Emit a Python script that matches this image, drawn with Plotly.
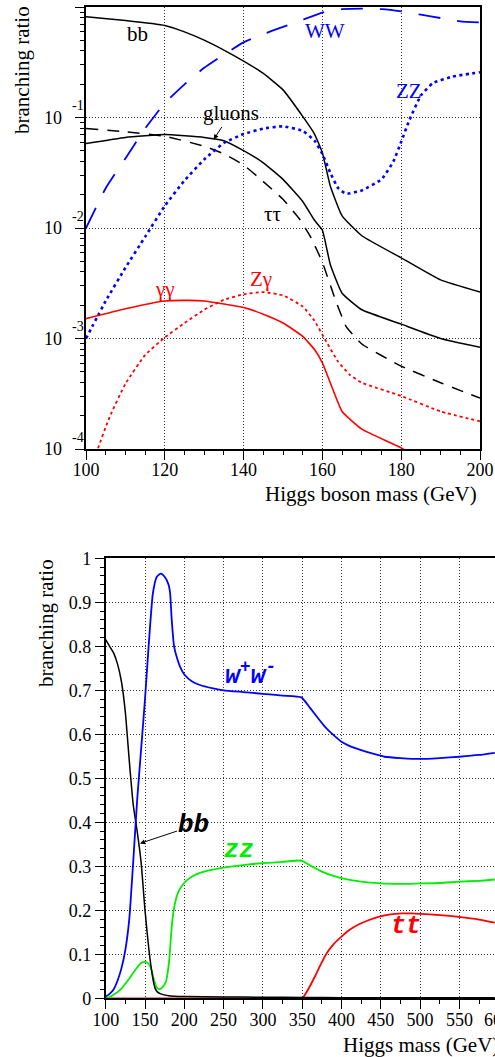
import numpy as np
import plotly.graph_objects as go

# ---------------- top panel (log scale), values are log10(branching ratio) ----------------
m_bb = [100, 110, 120, 125, 130, 135, 140, 145, 150, 155, 158, 160, 162, 165, 170, 180, 190, 200]
lg_bb = [-0.089, -0.122, -0.167, -0.225, -0.30, -0.39, -0.49, -0.60, -0.75, -0.99, -1.15, -1.32, -1.62, -1.89, -2.07, -2.27, -2.47, -2.58]

m_gg = [100, 110, 120, 130, 135, 140, 145, 150, 155, 158, 160, 162, 165, 170, 180, 190, 200]
lg_gg = [-1.235, -1.18, -1.154, -1.18, -1.21, -1.30, -1.41, -1.56, -1.76, -1.93, -2.02, -2.33, -2.59, -2.74, -2.87, -3.00, -3.08]

m_tau = [100, 110, 120, 130, 135, 140, 145, 150, 154, 157, 160, 163, 166, 170, 180, 190, 200]
lg_tau = [-1.10, -1.13, -1.17, -1.26, -1.33, -1.43, -1.58, -1.74, -1.91, -2.08, -2.31, -2.62, -2.89, -3.05, -3.25, -3.40, -3.54]

m_ww = [100, 105, 110, 115, 120, 125, 130, 135, 140, 145, 150, 155, 160, 165, 170, 175, 180, 185, 190, 195, 200]
lg_ww = [-2.0, -1.64, -1.37, -1.10, -0.87, -0.70, -0.55, -0.43, -0.32, -0.245, -0.18, -0.115, -0.05, -0.02, -0.015, -0.02, -0.04, -0.07, -0.10, -0.13, -0.14]

m_zz = [100, 105, 110, 115, 120, 125, 130, 135, 140, 145, 150, 155, 158, 160, 162, 164, 166, 170, 175, 178, 180, 182, 185, 188, 193, 200]
lg_zz = [-3.0, -2.66, -2.36, -2.08, -1.80, -1.57, -1.38, -1.23, -1.15, -1.10, -1.08, -1.12, -1.21, -1.33, -1.50, -1.64, -1.69, -1.66, -1.56, -1.40, -1.22, -1.03, -0.80, -0.69, -0.63, -0.59]

m_gamgam = [100, 110, 120, 126, 130, 140, 145, 150, 155, 158, 160, 162, 165, 170, 180, 190]
lg_gamgam = [-2.82, -2.73, -2.66, -2.655, -2.66, -2.72, -2.78, -2.86, -2.98, -3.10, -3.22, -3.40, -3.66, -3.82, -3.99, -4.2]

m_zgam = [102, 103, 106, 110, 115, 120, 125, 130, 135, 140, 145, 150, 155, 158, 161, 164, 167, 170, 180, 190, 200]
lg_zgam = [-4.15, -4.0, -3.71, -3.41, -3.15, -2.99, -2.86, -2.74, -2.65, -2.60, -2.58, -2.61, -2.71, -2.84, -3.03, -3.21, -3.33, -3.40, -3.52, -3.66, -3.75]

top_x_ticks = [100, 120, 140, 160, 180, 200]
top_y_ticks = [1e-4, 1e-3, 1e-2, 1e-1, 1]
top_y_exp = ["-4", "-3", "-2", "-1"]          # exponent labels written as "10" with a raised exponent

# ---------------- bottom panel (linear scale) ----------------
m_b_ww = [100, 105, 110, 115, 120, 125, 130, 135, 140, 145, 150, 155, 160, 165, 170, 175, 180, 182, 184, 187, 190, 195, 200,
          210, 220, 235, 250, 275, 300, 325, 349, 360, 370, 380, 390, 400, 412, 425, 440, 455, 475, 500, 525, 550, 575, 595]
br_b_ww = [0.004, 0.01, 0.02, 0.04, 0.068, 0.11, 0.18, 0.31, 0.45, 0.565, 0.68, 0.81, 0.92, 0.958, 0.965, 0.958, 0.94, 0.92, 0.86, 0.80, 0.778, 0.752, 0.736,
           0.72, 0.712, 0.705, 0.70, 0.696, 0.692, 0.688, 0.684, 0.66, 0.637, 0.615, 0.598, 0.583, 0.572, 0.564, 0.556, 0.549, 0.546, 0.544, 0.546, 0.549, 0.553, 0.558]

m_b_bb = [100, 105, 110, 115, 120, 125, 130, 135, 140, 145, 150, 155, 160, 163, 166, 170, 180, 200, 250, 300, 350, 400, 500, 595]
br_b_bb = [0.815, 0.80, 0.785, 0.76, 0.72, 0.65, 0.54, 0.44, 0.38, 0.31, 0.20, 0.11, 0.045, 0.022, 0.014, 0.010, 0.006, 0.004, 0.003, 0.0025, 0.002, 0.0012, 0.001, 0.001]

m_b_zz = [100, 105, 110, 115, 120, 125, 130, 135, 140, 145, 150, 153, 156, 159, 162, 165, 168, 171, 174, 177, 179, 181, 183, 185, 188, 192, 197,
          203, 210, 220, 230, 250, 280, 300, 325, 349, 360, 375, 390, 400, 425, 450, 475, 500, 525, 550, 575, 595]
br_b_zz = [0.0, 0.003, 0.008, 0.014, 0.022, 0.033, 0.045, 0.058, 0.07, 0.08, 0.083, 0.081, 0.075, 0.06, 0.038, 0.024, 0.021, 0.023, 0.029, 0.04, 0.06, 0.09, 0.14, 0.18, 0.215, 0.24, 0.256,
           0.268, 0.277, 0.285, 0.29, 0.297, 0.304, 0.307, 0.31, 0.313, 0.302, 0.288, 0.278, 0.273, 0.265, 0.261, 0.26, 0.261, 0.262, 0.265, 0.267, 0.27]

m_b_tt = [100, 200, 300, 350, 352, 360, 366, 373, 381, 390, 400, 410, 421, 435, 447, 460, 477, 490, 500, 525, 549, 575, 595]
br_b_tt = [0.0, 0.0, 0.0, 0.0, 0.004, 0.028, 0.049, 0.075, 0.102, 0.123, 0.14, 0.155, 0.167, 0.178, 0.185, 0.19, 0.193, 0.193, 0.192, 0.189, 0.185, 0.179, 0.172]

bot_x_ticks = [100, 150, 200, 250, 300, 350, 400, 450, 500, 550, 600]
bot_y_ticks = [0, 0.1, 0.2, 0.3, 0.4, 0.5, 0.6, 0.7, 0.8, 0.9, 1]
bot_y_text = ["0", "0.1", "0.2", "0.3", "0.4", "0.5", "0.6", "0.7", "0.8", "0.9", "1"]

# ---------------- figure ----------------
W, H = 495, 1057
SERIF = "Liberation Serif"
MONO = "Liberation Mono"
BLUE, RED, GREEN = "#0000ff", "#ff0000", "#00ee00"

fig = go.Figure()

def top_line(m, lg, color, width, dash):
    fig.add_trace(go.Scatter(x=m, y=10 ** np.array(lg), mode="lines", xaxis="x", yaxis="y",
                             line=dict(color=color, width=width, dash=dash, shape="spline", smoothing=0.4),
                             hoverinfo="skip", showlegend=False))

top_line(m_bb, lg_bb, "black", 1.5, "solid")
top_line(m_gg, lg_gg, "black", 1.5, "solid")
top_line(m_tau, lg_tau, "black", 1.5, "12px,9px")
top_line(m_ww, lg_ww, BLUE, 1.8, "22px,17px")
top_line(m_zz, lg_zz, BLUE, 2.6, "3px,3.5px")
top_line(m_gamgam, lg_gamgam, RED, 1.6, "solid")
top_line(m_zgam, lg_zgam, RED, 1.8, "3px,3px")

def bot_line(m, br, color, width):
    fig.add_trace(go.Scatter(x=m, y=br, mode="lines", xaxis="x2", yaxis="y2",
                             line=dict(color=color, width=width, shape="spline", smoothing=0.5),
                             hoverinfo="skip", showlegend=False))

bot_line(m_b_tt, br_b_tt, RED, 1.8)
bot_line(m_b_zz, br_b_zz, GREEN, 1.8)
bot_line(m_b_bb, br_b_bb, "black", 1.5)
bot_line(m_b_ww, br_b_ww, BLUE, 1.8)

tickfont = dict(family=SERIF, size=18, color="black")
grid = dict(showgrid=True, gridcolor="#333333", gridwidth=1, griddash="1px,2px")
axline = dict(showline=True, linecolor="black", linewidth=1.5, zeroline=False,
              ticks="outside", ticklen=9, tickwidth=1.2, tickcolor="black", tickfont=tickfont, automargin=False)

top_minor_y = [k * 10.0 ** e for e in range(-4, 0) for k in range(2, 10)]

fig.update_layout(
    width=W, height=H, template="none", autosize=False,
    margin=dict(l=0, r=0, t=0, b=0),
    paper_bgcolor="white", plot_bgcolor="white",
    xaxis=dict(domain=[86 / W, 480 / W], anchor="y", range=[100, 200], tickmode="array",
               tickvals=top_x_ticks, mirror=True, ticklabelstandoff=-5,
               minor=dict(dtick=5, tick0=100, ticks="outside", ticklen=4, tickwidth=1, tickcolor="black", showgrid=False),
               **grid, **axline),
    yaxis=dict(domain=[1 - 449 / H, 1 - 7 / H], anchor="x", type="log", range=[-4, 0], tickmode="array",
               tickvals=top_y_ticks, showticklabels=False, mirror=True,
               minor=dict(tickmode="array", tickvals=top_minor_y, ticks="outside", ticklen=4, tickwidth=1,
                          tickcolor="black", showgrid=False),
               **grid, **axline),
    xaxis2=dict(domain=[105.7 / W, 1.0], anchor="y2", range=[100, 595.3], tickmode="array",
                tickvals=bot_x_ticks, mirror=True, ticklabelstandoff=-5,
                minor=dict(dtick=25, tick0=100, ticks="outside", ticklen=4, tickwidth=1, tickcolor="black", showgrid=False),
                **grid, **axline),
    yaxis2=dict(domain=[1 - 998.3 / H, 1 - 558.3 / H], anchor="x2", range=[0, 1], tickmode="array",
                tickvals=bot_y_ticks, ticktext=bot_y_text, mirror=False,
                minor=dict(dtick=0.02, tick0=0, ticks="outside", ticklen=4, tickwidth=1, tickcolor="black", showgrid=False),
                **grid, **axline),
)

ann = []
title_font = dict(family=SERIF, size=21, color="black")
# axis titles
ann.append(dict(text="Higgs boson mass (GeV)", xref="paper", yref="paper", x=479 / W, y=1 - 494 / H,
                xanchor="right", yanchor="middle", showarrow=False, font=title_font))
ann.append(dict(text="branching ratio", xref="paper", yref="paper", x=22 / W, y=1 - 70 / H, textangle=-90,
                xanchor="center", yanchor="middle", showarrow=False, font=title_font))
ann.append(dict(text="Higgs mass (GeV)", xref="paper", yref="paper", x=341 / W, y=1 - 1045 / H,
                xanchor="left", yanchor="middle", showarrow=False, font=title_font))
ann.append(dict(text="branching ratio", xref="paper", yref="paper", x=46 / W, y=1 - 623 / H, textangle=-90,
                xanchor="center", yanchor="middle", showarrow=False, font=title_font))
# partially visible 600 tick label of the lower axis
ann.append(dict(text="600", xref="paper", yref="paper", x=497.3 / W, y=1 - 1020 / H,
                xanchor="center", yanchor="middle", showarrow=False, font=tickfont))

# top y tick labels: "10" with a raised exponent placed to its right
for val, ex in zip(top_y_ticks[:4], top_y_exp):
    ann.append(dict(text="10", xref="paper", yref="y", x=64 / W, y=float(np.log10(val)),
                    xanchor="right", yanchor="middle", showarrow=False, font=tickfont))
    ann.append(dict(text=ex, xref="paper", yref="y", x=70 / W, y=float(np.log10(val)), yshift=12,
                    xanchor="left", yanchor="middle", showarrow=False,
                    font=dict(family=SERIF, size=14, color="black")))

lab_font = dict(family=SERIF, size=21)
# top panel labels (x = mass, y = log10 BR)
ann.append(dict(text="bb", x=113, y=-0.24, xref="x", yref="y", showarrow=False, font=dict(lab_font, color="black")))
ann.append(dict(text="WW", x=160.6, y=-0.22, xref="x", yref="y", showarrow=False, font=dict(lab_font, color=BLUE)))
ann.append(dict(text="ZZ", x=182, y=-0.756, xref="x", yref="y", showarrow=False, font=dict(lab_font, color=BLUE)))
ann.append(dict(text="ττ", x=147.4, y=-1.869, xref="x", yref="y", showarrow=False, font=dict(lab_font, color="black")))
ann.append(dict(text="γγ", x=120.1, y=-2.548, xref="x", yref="y", showarrow=False, font=dict(lab_font, color=RED)))
ann.append(dict(text="Zγ", x=144.3, y=-2.457, xref="x", yref="y", showarrow=False, font=dict(lab_font, color=RED)))
ann.append(dict(text="gluons", x=132.4, y=float(np.log10(0.0633)), xref="x", yref="y", showarrow=True,
                ax=17, ay=-26, arrowhead=2, arrowsize=1, arrowwidth=1, arrowcolor="black",
                font=dict(lab_font, color="black")))

# bottom panel labels
mono_font = dict(family=MONO, size=25, weight="bold", style="italic")
ann.append(dict(text="w<sup>+</sup>w<sup>-</sup>", x=283.6, y=0.737, xref="x2", yref="y2", showarrow=False,
                font=dict(mono_font, color=BLUE)))
ann.append(dict(text="bb", x=143.6, y=0.352, xref="x2", yref="y2", showarrow=True, ax=54, ay=-18,
                arrowhead=2, arrowsize=1, arrowwidth=1, arrowcolor="black",
                font=dict(mono_font, size=26, color="black")))
ann.append(dict(text="zz", x=270.2, y=0.337, xref="x2", yref="y2", showarrow=False,
                font=dict(mono_font, color=GREEN)))
ann.append(dict(text="tt", x=482, y=0.164, xref="x2", yref="y2", showarrow=False,
                font=dict(mono_font, color=RED)))

fig.update_layout(annotations=ann)
fig.write_html("out.html", config={"displayModeBar": False},
               post_script="document.body.style.margin='0px';document.body.style.overflow='hidden';")
